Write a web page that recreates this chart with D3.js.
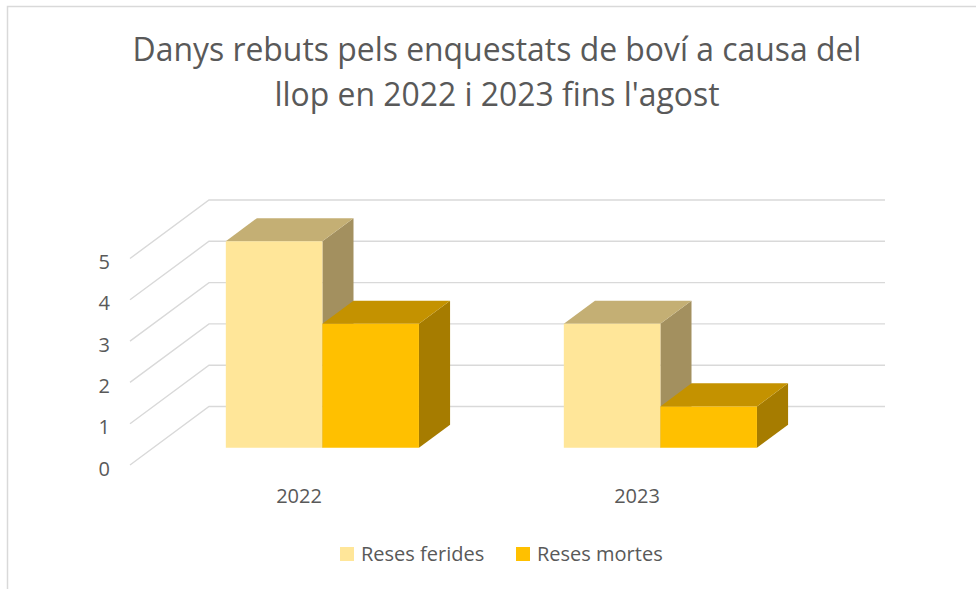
<!DOCTYPE html>
<html>
<head>
<meta charset="utf-8">
<script src="https://cdn.jsdelivr.net/npm/d3@7"></script>
<style>
  body { margin: 0; background: #fff; }
  text { font-family: "Open Sans", sans-serif; fill: #595959; }
</style>
</head>
<body>
<div class="chart"></div>
<script>
// data
var categories = ["2022", "2023"];
var seriesNames = ["Reses ferides", "Reses mortes"];
var feridesValues = [5, 3];
var mortesValues = [3, 1];
var yTicks = [0, 1, 2, 3, 4, 5];
var titleLines = ["Danys rebuts pels enquestats de boví a causa del", "llop en 2022 i 2023 fins l'agost"];

var svgWidth = 976;
var svgHeight = 589;

// 3d look: front plane of the floor and the depth vector to the back wall
var frontLeft = 130, frontRight = 806, frontBase = 465;
var depthX = 79, depthY = -58.5;
var barT0 = 0.296, barT1 = 0.69;

var colors = {
    "Reses ferides": { front: "#FFE699", top: "#C4AF74", side: "#A3905F" },
    "Reses mortes": { front: "#FFC000", top: "#C49200", side: "#A67C00" }
};

var svg = d3.select(".chart")
    .append("svg")
    .attr("width", svgWidth)
    .attr("height", svgHeight);

// outer frame (only top and left visible)
svg.append("path")
    .attr("d", "M7.5,589 L7.5,6.5 L976,6.5")
    .attr("fill", "none")
    .attr("stroke", "#d9d9d9")
    .attr("stroke-width", 1.5);

var yScale = d3.scaleLinear().domain([0, 5]).range([frontBase, frontBase - 206.5]);
var xScale = d3.scaleBand().domain(categories).range([frontLeft, frontRight]);
var xSub = d3.scaleBand().domain(seriesNames).range([0, xScale.bandwidth()]).paddingOuter(0.75);

function pt(x, v, t) {
    return [x + t * depthX, yScale(v) + t * depthY];
}
var line = d3.line();

// gridlines on side wall and back wall
var grid = svg.append("g").attr("class", "grid");
yTicks.forEach(function (v) {
    grid.append("path")
        .attr("d", line([pt(frontLeft, v, 0), pt(frontLeft, v, 1), pt(frontRight, v, 1)]))
        .attr("fill", "none")
        .attr("stroke", "#d9d9d9")
        .attr("stroke-width", 1.4);
});

// y axis labels
svg.append("g").selectAll("text")
    .data(yTicks)
    .enter()
    .append("text")
    .attr("x", 110)
    .attr("y", function (d) { return yScale(d) + 3; })
    .attr("text-anchor", "end")
    .attr("dominant-baseline", "central")
    .attr("font-size", "20px")
    .text(function (d) { return d; });

// bars
var rows = [];
categories.forEach(function (c, i) {
    rows.push({ cat: c, series: "Reses ferides", value: feridesValues[i] });
    rows.push({ cat: c, series: "Reses mortes", value: mortesValues[i] });
});

var bars = svg.append("g").attr("class", "bars");
rows.forEach(function (d) {
    var xl = xScale(d.cat) + xSub(d.series);
    var xr = xl + xSub.bandwidth();
    var c = colors[d.series];
    var g = bars.append("g");
    // side face
    g.append("path")
        .attr("d", line([pt(xr, 0, barT0), pt(xr, 0, barT1), pt(xr, d.value, barT1), pt(xr, d.value, barT0)]) + "Z")
        .attr("fill", c.side);
    // top face
    g.append("path")
        .attr("d", line([pt(xl, d.value, barT0), pt(xl, d.value, barT1), pt(xr, d.value, barT1), pt(xr, d.value, barT0)]) + "Z")
        .attr("fill", c.top);
    // front face
    g.append("path")
        .attr("d", line([pt(xl, 0, barT0), pt(xr, 0, barT0), pt(xr, d.value, barT0), pt(xl, d.value, barT0)]) + "Z")
        .attr("fill", c.front);
});

// category labels
svg.append("g").selectAll("text")
    .data(categories)
    .enter()
    .append("text")
    .attr("x", function (d) { return xScale(d) + xScale.bandwidth() / 2; })
    .attr("y", 503)
    .attr("text-anchor", "middle")
    .attr("font-size", "20px")
    .text(function (d) { return d; });

// title, sized so the first line fits the reference width
var title = svg.append("g");
var titleY = [61, 106];
var t1 = title.append("text")
    .attr("x", 497)
    .attr("y", titleY[0])
    .attr("text-anchor", "middle")
    .attr("font-size", "30px")
    .text(titleLines[0]);
var fs = 30 * 729 / t1.node().getComputedTextLength();
t1.attr("font-size", fs + "px");
title.append("text")
    .attr("x", 497)
    .attr("y", titleY[1])
    .attr("text-anchor", "middle")
    .attr("font-size", fs + "px")
    .text(titleLines[1]);

// legend
var legendX = [340, 516];
var legend = svg.append("g");
seriesNames.forEach(function (s, i) {
    legend.append("rect")
        .attr("x", legendX[i])
        .attr("y", 547)
        .attr("width", 14)
        .attr("height", 14)
        .attr("fill", colors[s].front);
    legend.append("text")
        .attr("x", legendX[i] + 21)
        .attr("y", 561)
        .attr("font-size", "20px")
        .text(s);
});
</script>
</body>
</html>
